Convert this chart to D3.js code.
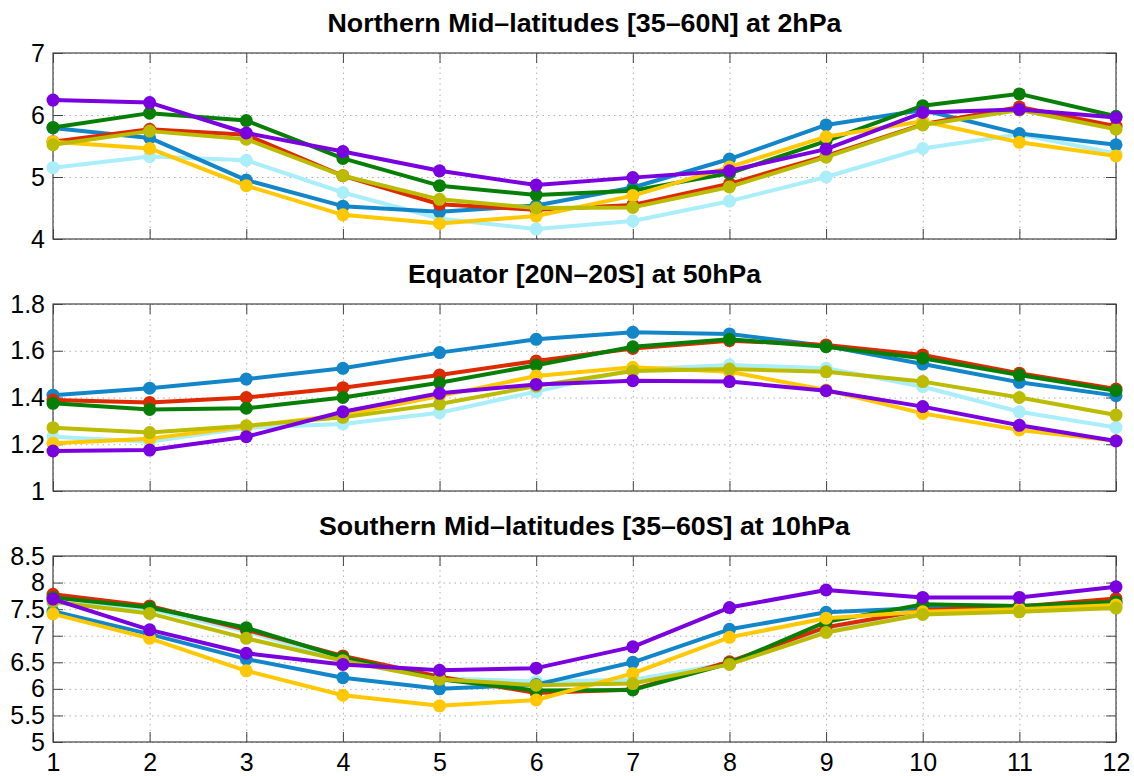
<!DOCTYPE html>
<html>
<head>
<meta charset="utf-8">
<script src="https://cdn.jsdelivr.net/npm/d3@7"></script>
<style>
  body { margin: 0; background: #fff; }
  svg { display: block; font-family: "Liberation Sans", Arial, Helvetica, sans-serif; }
  .grid line { stroke: #b0b0b0; stroke-dasharray: 1.5,4; stroke-width: 1; }
  .grid path { display: none; }
  .ax path { display: none; }
  .ax line { stroke: #444; stroke-width: 1; }
  .ax text { font-size: 25px; fill: #000; }
</style>
</head>
<body>
<main></main>
<script>
const months = [1,2,3,4,5,6,7,8,9,10,11,12];
const seriesColors = ["#aaeefa", "#1386c9", "#dd2a00", "#077f07", "#ffc800", "#bbbb00", "#7a00e0"];

// Northern Mid-latitudes at 2hPa
const northLightBlue = [5.15, 5.33, 5.27, 4.75, 4.33, 4.16, 4.29, 4.61, 5.00, 5.46, 5.69, 5.38];
const northBlue      = [5.79, 5.63, 4.95, 4.53, 4.44, 4.54, 4.83, 5.29, 5.84, 6.08, 5.70, 5.52];
const northRed       = [5.57, 5.77, 5.68, 5.02, 4.56, 4.47, 4.55, 4.89, 5.34, 5.85, 6.13, 5.82];
const northGreen     = [5.80, 6.03, 5.91, 5.30, 4.86, 4.71, 4.78, 5.06, 5.58, 6.15, 6.34, 5.98];
const northYellow    = [5.57, 5.46, 4.86, 4.39, 4.25, 4.37, 4.70, 5.16, 5.65, 5.90, 5.56, 5.34];
const northOlive     = [5.52, 5.74, 5.61, 5.02, 4.64, 4.50, 4.51, 4.84, 5.32, 5.84, 6.08, 5.77];
const northPurple    = [6.24, 6.20, 5.71, 5.41, 5.10, 4.87, 4.99, 5.10, 5.45, 6.04, 6.09, 5.96];

// Equator at 50hPa
const eqLightBlue = [1.232, 1.211, 1.270, 1.287, 1.335, 1.425, 1.520, 1.539, 1.525, 1.446, 1.339, 1.272];
const eqBlue      = [1.410, 1.440, 1.479, 1.525, 1.592, 1.649, 1.679, 1.672, 1.620, 1.543, 1.465, 1.408];
const eqRed       = [1.389, 1.379, 1.400, 1.442, 1.496, 1.556, 1.610, 1.643, 1.625, 1.582, 1.504, 1.436];
const eqGreen     = [1.375, 1.349, 1.354, 1.400, 1.463, 1.538, 1.617, 1.649, 1.617, 1.568, 1.496, 1.429];
const eqYellow    = [1.204, 1.224, 1.276, 1.325, 1.406, 1.492, 1.529, 1.510, 1.432, 1.332, 1.261, 1.215];
const eqOlive     = [1.271, 1.250, 1.279, 1.315, 1.372, 1.449, 1.513, 1.522, 1.510, 1.468, 1.400, 1.325];
const eqPurple    = [1.171, 1.175, 1.232, 1.339, 1.418, 1.456, 1.472, 1.468, 1.429, 1.361, 1.281, 1.214];

// Southern Mid-latitudes at 10hPa
const southLightBlue = [7.62, 7.50, 7.08, 6.55, 6.20, 6.14, 6.17, 6.48, 7.10, 7.42, 7.47, 7.55];
const southBlue      = [7.46, 7.03, 6.56, 6.21, 6.00, 6.08, 6.50, 7.12, 7.44, 7.52, 7.55, 7.62];
const southRed       = [7.78, 7.56, 7.11, 6.62, 6.23, 5.92, 5.99, 6.51, 7.16, 7.48, 7.55, 7.70];
const southGreen     = [7.72, 7.53, 7.15, 6.59, 6.18, 5.97, 5.98, 6.48, 7.26, 7.59, 7.56, 7.64];
const southYellow    = [7.41, 6.95, 6.34, 5.88, 5.68, 5.79, 6.29, 6.97, 7.33, 7.45, 7.50, 7.58];
const southOlive     = [7.64, 7.42, 6.95, 6.53, 6.18, 6.07, 6.10, 6.46, 7.06, 7.40, 7.45, 7.52];
const southPurple    = [7.69, 7.11, 6.67, 6.46, 6.35, 6.39, 6.79, 7.53, 7.86, 7.72, 7.72, 7.92];

const panelTitles = [
  "Northern Mid\u2013latitudes [35\u201360N] at 2hPa",
  "Equator [20N\u201320S] at 50hPa",
  "Southern Mid\u2013latitudes [35\u201360S] at 10hPa"
];
const northTicks = [4, 5, 6, 7];
const eqTicks = [1, 1.2, 1.4, 1.6, 1.8];
const southTicks = [5, 5.5, 6, 6.5, 7, 7.5, 8, 8.5];

const panels = [
  { title: panelTitles[0], ticks: northTicks, domain: [4, 7], top: 53, bottom: 239, titleW: 514,
    series: [northLightBlue, northBlue, northRed, northGreen, northYellow, northOlive, northPurple] },
  { title: panelTitles[1], ticks: eqTicks, domain: [1, 1.8], top: 304, bottom: 491, titleW: 353,
    series: [eqLightBlue, eqBlue, eqRed, eqGreen, eqYellow, eqOlive, eqPurple] },
  { title: panelTitles[2], ticks: southTicks, domain: [5, 8.5], top: 556, bottom: 742, titleW: 531,
    series: [southLightBlue, southBlue, southRed, southGreen, southYellow, southOlive, southPurple] }
];

const w = 1134, h = 776,
  left = 53, right = 1116, tickLen = 10;

const svg = d3.select("main").append("svg")
  .attr("width", w)
  .attr("height", h);

const xScale = d3.scaleLinear().domain([1, 12]).range([left, right]);

panels.forEach((p, pi) => {
  const yScale = d3.scaleLinear().domain(p.domain).range([p.bottom, p.top]);
  const g = svg.append("g");
  const ph = p.bottom - p.top;

  // grid
  g.append("g").attr("class", "grid")
    .attr("transform", "translate(0," + p.bottom + ")")
    .call(d3.axisBottom(xScale).tickValues(months).tickSize(-ph).tickFormat(""));
  g.append("g").attr("class", "grid")
    .attr("transform", "translate(" + left + ",0)")
    .call(d3.axisLeft(yScale).tickValues(p.ticks).tickSize(-(right - left)).tickFormat(""));

  // inward ticks
  g.append("g").attr("class", "ax")
    .attr("transform", "translate(0," + p.bottom + ")")
    .call(d3.axisBottom(xScale).tickValues(months).tickSizeInner(-tickLen).tickSizeOuter(0)
      .tickPadding(11).tickFormat(pi === 2 ? d3.format("d") : ""));
  g.append("g").attr("class", "ax")
    .attr("transform", "translate(0," + p.top + ")")
    .call(d3.axisTop(xScale).tickValues(months).tickSizeInner(-tickLen).tickSizeOuter(0).tickFormat(""));
  g.append("g").attr("class", "ax")
    .attr("transform", "translate(" + left + ",0)")
    .call(d3.axisLeft(yScale).tickValues(p.ticks).tickSizeInner(-tickLen).tickSizeOuter(0)
      .tickPadding(8).tickFormat(d3.format("")));
  g.append("g").attr("class", "ax")
    .attr("transform", "translate(" + right + ",0)")
    .call(d3.axisRight(yScale).tickValues(p.ticks).tickSizeInner(-tickLen).tickSizeOuter(0).tickFormat(""));

  // frame
  g.append("rect")
    .attr("x", left).attr("y", p.top)
    .attr("width", right - left).attr("height", ph)
    .attr("fill", "none").attr("stroke", "#444").attr("stroke-width", 1.2);

  const line = d3.line().x((d, i) => xScale(months[i])).y(d => yScale(d));

  p.series.forEach((vals, si) => {
    const s = g.append("g");
    s.append("path")
      .attr("d", line(vals))
      .attr("fill", "none")
      .attr("stroke", seriesColors[si])
      .attr("stroke-width", 4)
      .attr("stroke-linejoin", "round");
    s.selectAll("circle")
      .data(vals)
      .enter()
      .append("circle")
      .attr("cx", (d, i) => xScale(months[i]))
      .attr("cy", d => yScale(d))
      .attr("r", 6.5)
      .attr("fill", seriesColors[si]);
  });

  svg.append("text")
    .attr("x", (left + right) / 2)
    .attr("y", p.top - 21)
    .attr("text-anchor", "middle")
    .attr("textLength", p.titleW)
    .attr("lengthAdjust", "spacingAndGlyphs")
    .style("font-size", "25px")
    .style("font-weight", "bold")
    .text(p.title);
});
</script>
</body>
</html>
